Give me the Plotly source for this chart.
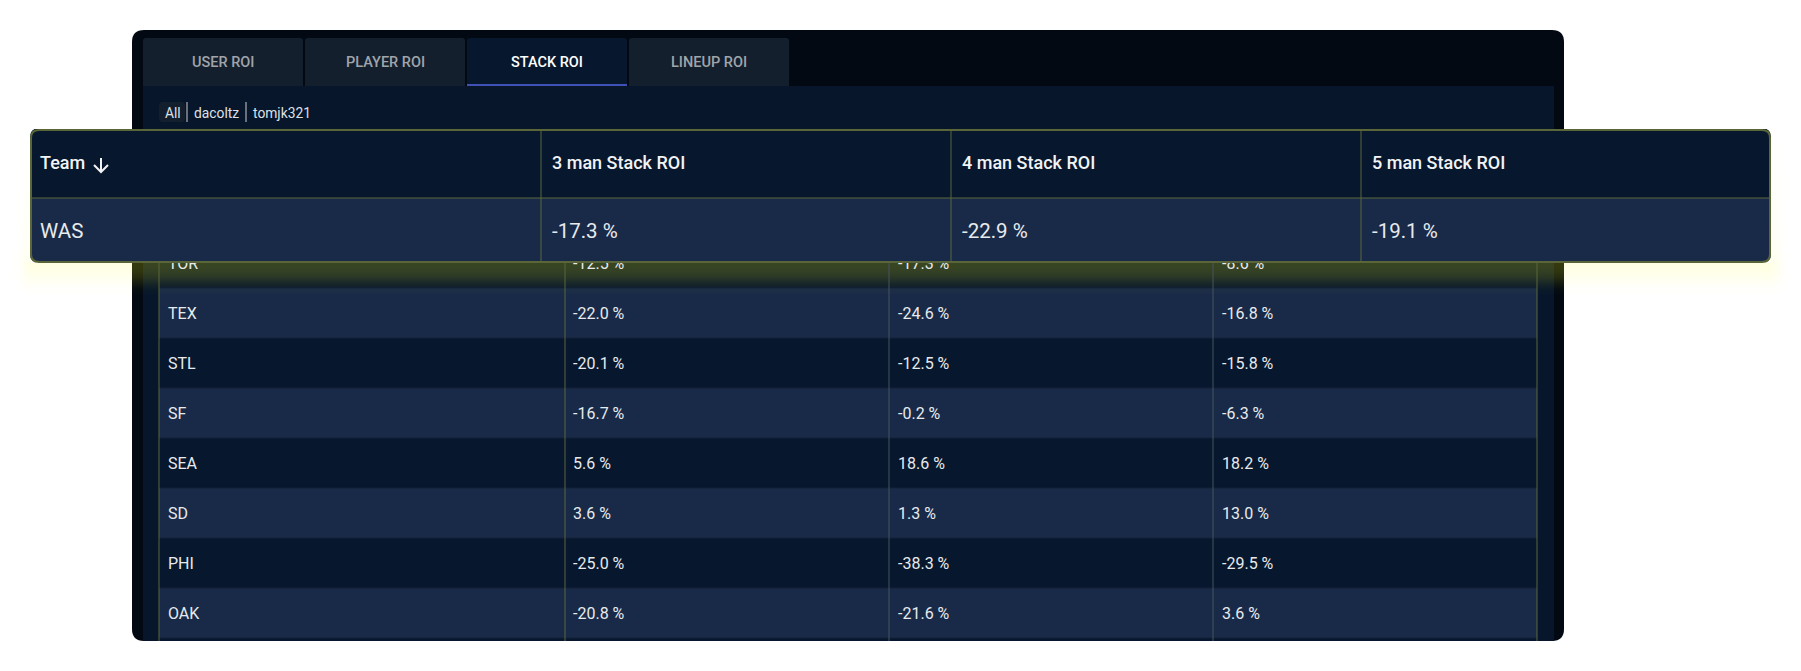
import plotly.graph_objects as go

# table data
teams = ["TOR", "TEX", "STL", "SF", "SEA", "SD", "PHI", "OAK"]
roi_3_man = [-12.5, -22.0, -20.1, -16.7, 5.6, 3.6, -25.0, -20.8]
roi_4_man = [-17.3, -24.6, -12.5, -0.2, 18.6, 1.3, -38.3, -21.6]
roi_5_man = [-8.6, -16.8, -15.8, -6.3, 18.2, 13.0, -29.5, 3.6]

pinned_team = "WAS"
pinned_roi = [-17.3, -22.9, -19.1]
header_labels = ["Team", "3 man Stack ROI", "4 man Stack ROI", "5 man Stack ROI"]

tab_labels = ["USER ROI", "PLAYER ROI", "STACK ROI", "LINEUP ROI"]
filter_labels = ["All", "dacoltz", "tomjk321"]

WIDTH, HEIGHT = 1801, 671
BODY_MARGIN = 8  # the page keeps the browser's default body margin
FONT = "Roboto"

# colours
PANEL = "#020913"
INNER = "#07162b"
TAB = "#141f2e"
ROW_DARK = "#07172e"
ROW_LIGHT = "#182a48"
OLIVE = "#5a6638"
GRID_GREY = "#46545c"
ROW_LINE = "#142238"

# geometry in page pixels, the axes below run 1:1 with the page
body_cols = [159, 565, 889, 1213, 1537]
body_rows_top = 238
row_h = 50
body_bottom = 641
pinned_cols = [30, 541, 951, 1361, 1771]
pinned_rows = [129, 198, 262]

# glow under the pinned row, opacity per band
strip_y = [262, 270, 278, 286, 294]
strip_alpha = [0.11, 0.08, 0.04, 0.01]
panel_strip_y = [262, 268, 274, 280, 286, 292]
panel_strip_alpha = [0.1, 0.1, 0.08, 0.04, 0.01]
side_y = list(range(134, 295, 8))
side_alpha = [0, 0.005, 0.01, 0.01, 0.015, 0.02, 0.02, 0.025, 0.025, 0.03,
              0.03, 0.035, 0.04, 0.05, 0.06, 0.08, 0.11, 0.08, 0.045, 0.01]


def pct(v):
    return f"{v:.1f} %"


def rounded(x0, y0, x1, y1, r):
    return (
        f"M {x0+r},{y0} H {x1-r} Q {x1},{y0} {x1},{y0+r} V {y1-r} Q {x1},{y1} {x1-r},{y1} "
        f"H {x0+r} Q {x0},{y1} {x0},{y1-r} V {y0+r} Q {x0},{y0} {x0+r},{y0} Z"
    )


def glow(x_edges, y_edges, z, zmax):
    return go.Heatmap(
        x=x_edges,
        y=y_edges,
        z=z,
        zsmooth="best",
        colorscale=[[0, "rgba(255,255,0,0)"], [1, f"rgba(255,255,0,{zmax})"]],
        zmin=0,
        zmax=zmax,
        showscale=False,
        hoverinfo="skip",
    )


fig = go.Figure()

# body of the table, behind the pinned row
row_edges = [body_rows_top + i * row_h for i in range(len(teams) + 1)] + [body_bottom]
fig.add_trace(
    go.Heatmap(
        x=body_cols,
        y=row_edges,
        z=[[i % 2] * 4 for i in range(len(teams) + 1)],
        colorscale=[[0, ROW_DARK], [1, ROW_LIGHT]],
        zmin=0,
        zmax=1,
        showscale=False,
        hoverinfo="skip",
    )
)

line_x, line_y = [], []
for y in row_edges[1:-1]:
    line_x += [body_cols[0], body_cols[-1], None]
    line_y += [y, y, None]
fig.add_trace(
    go.Scatter(x=line_x, y=line_y, mode="lines", line=dict(color=ROW_LINE, width=1), hoverinfo="skip")
)

# vertical rules differ a little in tint
for x, colour in zip(body_cols, [OLIVE, OLIVE, GRID_GREY, GRID_GREY, OLIVE]):
    fig.add_trace(
        go.Scatter(
            x=[x, x],
            y=[body_rows_top, body_bottom],
            mode="lines",
            line=dict(color=colour, width=1),
            hoverinfo="skip",
        )
    )

body_text_x = [168, 573, 898, 1222]
for col_x, col_values in zip(body_text_x, [teams, roi_3_man, roi_4_man, roi_5_man]):
    labels = [v if isinstance(v, str) else pct(v) for v in col_values]
    fig.add_trace(
        go.Scatter(
            x=[col_x] * len(labels),
            y=[body_rows_top + row_h * (i + 0.5) + 1.5 for i in range(len(labels))],
            text=labels,
            mode="text",
            textposition="middle right",
            textfont=dict(family=FONT, size=16, color="#e8eaed"),
            hoverinfo="skip",
        )
    )

# glow: zsmooth best needs evenly spaced edges, so bottom strip and sides are separate
fig.add_trace(glow([30, 900.5, 1771], strip_y, [[a, a] for a in strip_alpha], 0.11))
fig.add_trace(glow([132, 848, 1564], panel_strip_y, [[a, a] for a in panel_strip_alpha], 0.1))
fig.add_trace(glow([14, 22, 30], side_y, [[a * 0.15, a * 0.75] for a in side_alpha], 0.11))
fig.add_trace(glow([1771, 1779, 1787], side_y, [[a * 0.75, a * 0.15] for a in side_alpha], 0.11))

# pinned row on its own overlaid axes so it sits above all of that
fig.add_trace(
    go.Heatmap(
        x=pinned_cols,
        y=pinned_rows,
        z=[[0] * 4, [1] * 4],
        colorscale=[[0, ROW_DARK], [1, ROW_LIGHT]],
        zmin=0,
        zmax=1,
        showscale=False,
        hoverinfo="skip",
        xaxis="x2",
        yaxis="y2",
    )
)

pin_x, pin_y = [], []
for x in pinned_cols[1:-1]:
    pin_x += [x, x, None]
    pin_y += [pinned_rows[0], pinned_rows[-1], None]
pin_x += [pinned_cols[0], pinned_cols[-1]]
pin_y += [pinned_rows[1], pinned_rows[1]]
fig.add_trace(
    go.Scatter(
        x=pin_x,
        y=pin_y,
        mode="lines",
        line=dict(color=OLIVE, width=1),
        hoverinfo="skip",
        xaxis="x2",
        yaxis="y2",
    )
)

pinned_text_x = [40, 552, 962, 1372]
fig.add_trace(
    go.Scatter(
        x=pinned_text_x,
        y=[164.5] * 4,
        text=header_labels,
        mode="text",
        textposition="middle right",
        textfont=dict(family=FONT, size=18, color="#f2f3f5", weight=500),
        hoverinfo="skip",
        xaxis="x2",
        yaxis="y2",
    )
)
fig.add_trace(
    go.Scatter(
        x=pinned_text_x,
        y=[232.5] * 4,
        text=[pinned_team] + [pct(v) for v in pinned_roi],
        mode="text",
        textposition="middle right",
        textfont=dict(family=FONT, size=20.5, color="#e8eaed"),
        hoverinfo="skip",
        xaxis="x2",
        yaxis="y2",
    )
)

# page chrome around the table
shapes = [
    dict(type="path", path=rounded(132, 30, 1564, 641, 12), fillcolor=PANEL, line_width=0, layer="below"),
    dict(type="rect", x0=143, x1=1554, y0=86, y1=641, fillcolor=INNER, line_width=0, layer="below"),
]
tab_edges = [(143, 303), (305, 465), (467, 627), (629, 789)]
for i, (x0, x1) in enumerate(tab_edges):
    colour = ROW_DARK if i == 2 else TAB
    shapes.append(
        dict(type="path", path=f"M {x0},86 V 41 Q {x0},38 {x0+3},38 H {x1-3} Q {x1},38 {x1},41 V 86 Z",
             fillcolor=colour, line_width=0, layer="below")
    )
shapes.append(dict(type="rect", x0=467, x1=627, y0=84, y1=86, fillcolor="#3f51b5", line_width=0, layer="below"))
shapes.append(dict(type="path", path=rounded(159, 102, 185, 122, 4), fillcolor=TAB, line_width=0, layer="below"))
for x in [187, 246]:
    shapes.append(dict(type="line", x0=x, x1=x, y0=102, y1=122, line=dict(color="#8b919a", width=1.5), layer="below"))

# square heatmap corners get masked, then the rounded outline goes on top
shapes += [
    dict(type="path", path="M 29,128 H 38 Q 30,129 30,137 V 128 Z", fillcolor="#ffffff", line_width=0),
    dict(type="path", path="M 1772,128 H 1763 Q 1771,129 1771,137 V 128 Z", fillcolor="#ffffff", line_width=0),
    dict(type="path", path="M 29,263 H 38 Q 30,262 30,254 V 263 Z", fillcolor="#fffff6", line_width=0),
    dict(type="path", path="M 1772,263 H 1763 Q 1771,262 1771,254 V 263 Z", fillcolor="#fffff6", line_width=0),
    dict(type="path", path=rounded(31, 130, 1770, 262, 8), line=dict(color=OLIVE, width=2)),
    # sort arrow next to Team
    dict(type="path", path="M 101,158 V 172 M 94,165 L 101,172 L 108,165", line=dict(color="#f2f3f5", width=2)),
]

annotations = []
for i, (label, (x0, x1)) in enumerate(zip(tab_labels, tab_edges)):
    annotations.append(
        dict(x=(x0 + x1) / 2, y=62, text=label, showarrow=False,
             font=dict(family=FONT, size=14.5, weight=500, color="#ffffff" if i == 2 else "#a0a5ab"))
    )
for label, x in zip(filter_labels, [163, 192, 251]):
    annotations.append(
        dict(x=x, y=112.5, text=label, showarrow=False, xanchor="left",
             font=dict(family=FONT, size=13.8, color="#dfe1e4"))
    )

axis = dict(range=[BODY_MARGIN, WIDTH - BODY_MARGIN], visible=False, fixedrange=True)
yaxis = dict(range=[HEIGHT - BODY_MARGIN, BODY_MARGIN], visible=False, fixedrange=True)
fig.update_layout(
    width=WIDTH - 2 * BODY_MARGIN,
    height=HEIGHT - 2 * BODY_MARGIN,
    margin=dict(l=0, r=0, t=0, b=0),
    paper_bgcolor="#ffffff",
    plot_bgcolor="#ffffff",
    showlegend=False,
    xaxis=axis,
    yaxis=yaxis,
    xaxis2=dict(axis, overlaying="x"),
    yaxis2=dict(yaxis, overlaying="y"),
    shapes=shapes,
    annotations=annotations,
)

fig.write_html("out.html", config={"displayModeBar": False})
